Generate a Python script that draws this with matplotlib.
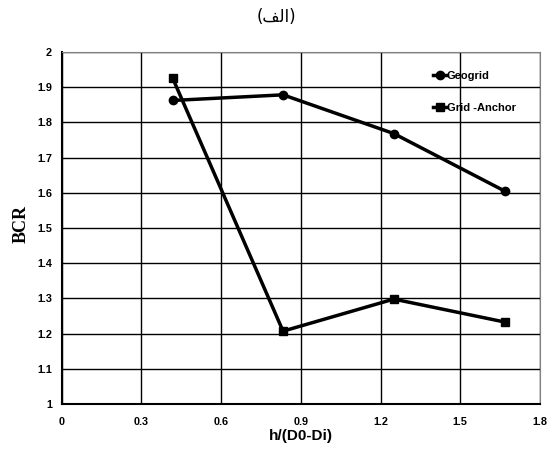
import matplotlib.pyplot as plt

x_vals = [0.417, 0.833, 1.25, 1.667]
geogrid = [1.862, 1.878, 1.768, 1.605]
grid_anchor = [1.926, 1.207, 1.298, 1.233]
x_ticks = [0, 0.3, 0.6, 0.9, 1.2, 1.5, 1.8]
y_ticks = [1, 1.1, 1.2, 1.3, 1.4, 1.5, 1.6, 1.7, 1.8, 1.9, 2]

# "(الف)" pre-shaped in visual order (matplotlib does no Arabic shaping)
title = "(\ufed2\ufedf\ufe8d)"

fig = plt.figure(figsize=(5.52, 4.55), dpi=100)
ax = fig.add_axes([0.112, 0.112, 0.866, 0.774])

ax.plot(x_vals, geogrid, color="black", lw=2.5, marker="o", ms=6, label="Geogrid")
ax.plot(x_vals, grid_anchor, color="black", lw=2.5, marker="s", ms=6, label="Grid -Anchor")

ax.set_xlim(0, 1.8)
ax.set_ylim(1, 2)
ax.set_xticks(x_ticks)
ax.set_xticklabels([f"{v:g}" for v in x_ticks])
ax.set_yticks(y_ticks)
ax.set_yticklabels([f"{v:g}" for v in y_ticks])
ax.grid(True, color="black", lw=1)
ax.set_axisbelow(True)
ax.tick_params(length=0)
ax.tick_params(axis="x", pad=9)
ax.tick_params(axis="y", pad=7)
for lbl in ax.get_xticklabels() + ax.get_yticklabels():
    lbl.set_fontfamily("Liberation Sans")
    lbl.set_fontweight("bold")
    lbl.set_fontsize(7.8)

for s in ["left", "bottom"]:
    ax.spines[s].set_linewidth(1.5)
ax.spines["right"].set_color("gray")
ax.spines["top"].set_color("gray")

ax.set_xlabel("h/(D0-Di)", fontfamily="Liberation Sans", fontweight="bold", fontsize=11, labelpad=2)
ax.set_ylabel("BCR", fontfamily="Liberation Serif", fontweight="bold", fontsize=13)
ax.yaxis.set_label_coords(-0.068, 0.51)

ax.legend(loc="upper right", bbox_to_anchor=(0.97, 0.975), frameon=False, handlelength=1.2,
          handletextpad=0.0, labelspacing=2.0,
          prop={"family": "Liberation Sans", "weight": "bold", "size": 8})

fig.text(0.5, 0.962, title, ha="center", va="center", fontsize=12, fontfamily="DejaVu Sans")

fig.savefig("out.png", dpi=100)
